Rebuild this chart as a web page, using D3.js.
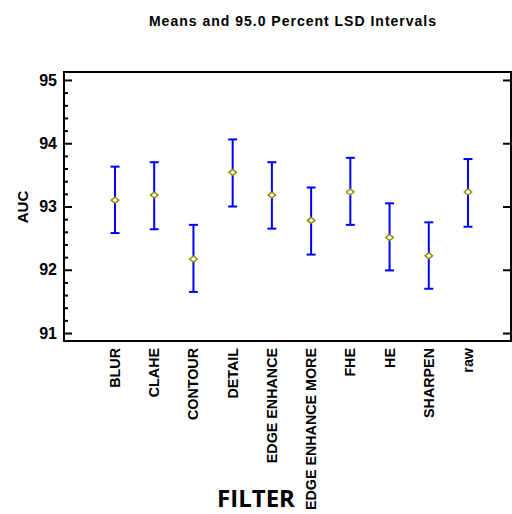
<!DOCTYPE html>
<html><head><meta charset="utf-8">
<script src="https://cdn.jsdelivr.net/npm/d3@7"></script>
<style>body{margin:0;background:#fff}svg{display:block}</style>
</head><body>
<svg id="c" width="512" height="514"></svg>
<script>
const categories = ["BLUR","CLAHE","CONTOUR","DETAIL","EDGE ENHANCE","EDGE ENHANCE MORE","FHE","HE","SHARPEN","raw"];
const means = [93.10, 93.18, 92.17, 93.54, 93.18, 92.78, 93.23, 92.51, 92.22, 93.23];
const lower = [92.58, 92.64, 91.65, 93.00, 92.65, 92.24, 92.71, 91.99, 91.70, 92.68];
const upper = [93.63, 93.70, 92.71, 94.06, 93.70, 93.30, 93.77, 93.05, 92.75, 93.75];
const majorTicks = [91, 92, 93, 94, 95];
const title = "Means and 95.0 Percent LSD Intervals";
const yTitle = "AUC";
const xTitle = "FILTER";

const svg = d3.select("#c");
const L = 64, R = 511, T = 72, B = 341;
const y = d3.scaleLinear().domain([90.874, 95.126]).range([B, T]);
const x = d3.scalePoint().domain(categories).range([115, 468]);
const minorTicks = d3.range(91, 95.001, 0.2).filter(v => Math.abs(v - Math.round(v)) > 1e-6);
const FONT = "Liberation Sans, Arial, sans-serif";

svg.append("text").attr("x", 293).attr("y", 26).attr("text-anchor", "middle")
  .attr("font-family", FONT).attr("font-weight", "bold")
  .attr("font-size", 14).attr("letter-spacing", 1.0).text(title);

// left axis
const ax = svg.append("g").attr("transform", `translate(${L},0)`);
ax.call(d3.axisLeft(y).tickValues(majorTicks).tickSize(-8).tickPadding(7).tickFormat(d3.format("d")));
ax.select(".domain").remove();
ax.selectAll(".tick line").attr("stroke", "#000").attr("stroke-width", 2);
ax.selectAll(".tick text").attr("font-family", FONT)
  .attr("font-weight", "bold").attr("font-size", 16).attr("fill", "#000");
const axm = svg.append("g").attr("transform", `translate(${L},0)`);
axm.call(d3.axisLeft(y).tickValues(minorTicks).tickSize(-4).tickFormat(""));
axm.select(".domain").remove();
axm.selectAll(".tick line").attr("stroke", "#000").attr("stroke-width", 2);

// right axis
const ar = svg.append("g").attr("transform", `translate(${R},0)`);
ar.call(d3.axisRight(y).tickValues(majorTicks).tickSize(-8).tickFormat(""));
ar.select(".domain").remove();
ar.selectAll(".tick line").attr("stroke", "#000").attr("stroke-width", 2);

// frame
svg.append("rect").attr("x", L).attr("y", T).attr("width", R - L).attr("height", B - T)
  .attr("fill", "none").attr("stroke", "#000").attr("stroke-width", 2);

// intervals
const g = svg.append("g");
const cw = 4.5;
categories.forEach((c, i) => {
  const cx = x(c);
  g.append("line").attr("x1", cx).attr("x2", cx).attr("y1", y(upper[i])).attr("y2", y(lower[i]))
    .attr("stroke", "#0000ff").attr("stroke-width", 2);
  g.append("line").attr("x1", cx - cw).attr("x2", cx + cw).attr("y1", y(upper[i])).attr("y2", y(upper[i]))
    .attr("stroke", "#0000ff").attr("stroke-width", 2);
  g.append("line").attr("x1", cx - cw).attr("x2", cx + cw).attr("y1", y(lower[i])).attr("y2", y(lower[i]))
    .attr("stroke", "#0000ff").attr("stroke-width", 2);
  const my = y(means[i]);
  g.append("path").attr("d", `M${cx - 3.8},${my} L${cx},${my - 3} L${cx + 3.8},${my} L${cx},${my + 3} Z`)
    .attr("fill", "#fff").attr("stroke", "#8c8c00").attr("stroke-width", 1.4);
});

// x labels
svg.append("g").selectAll("text").data(categories).join("text")
  .attr("transform", d => `translate(${x(d)},348) rotate(-90)`)
  .attr("text-anchor", "end").attr("dy", "0.35em")
  .attr("font-family", FONT).attr("font-weight", "bold")
  .attr("font-size", 14.3).text(d => d);

svg.append("text").attr("transform", "translate(28,207) rotate(-90)").attr("text-anchor", "middle")
  .attr("font-family", FONT).attr("font-weight", "bold")
  .attr("font-size", 15).text(yTitle);

svg.append("text").attr("x", 256).attr("y", 507).attr("text-anchor", "middle")
  .attr("font-family", "Open Sans, sans-serif").attr("font-weight", "bold")
  .attr("font-size", 24).text(xTitle);
</script>
</body></html>
